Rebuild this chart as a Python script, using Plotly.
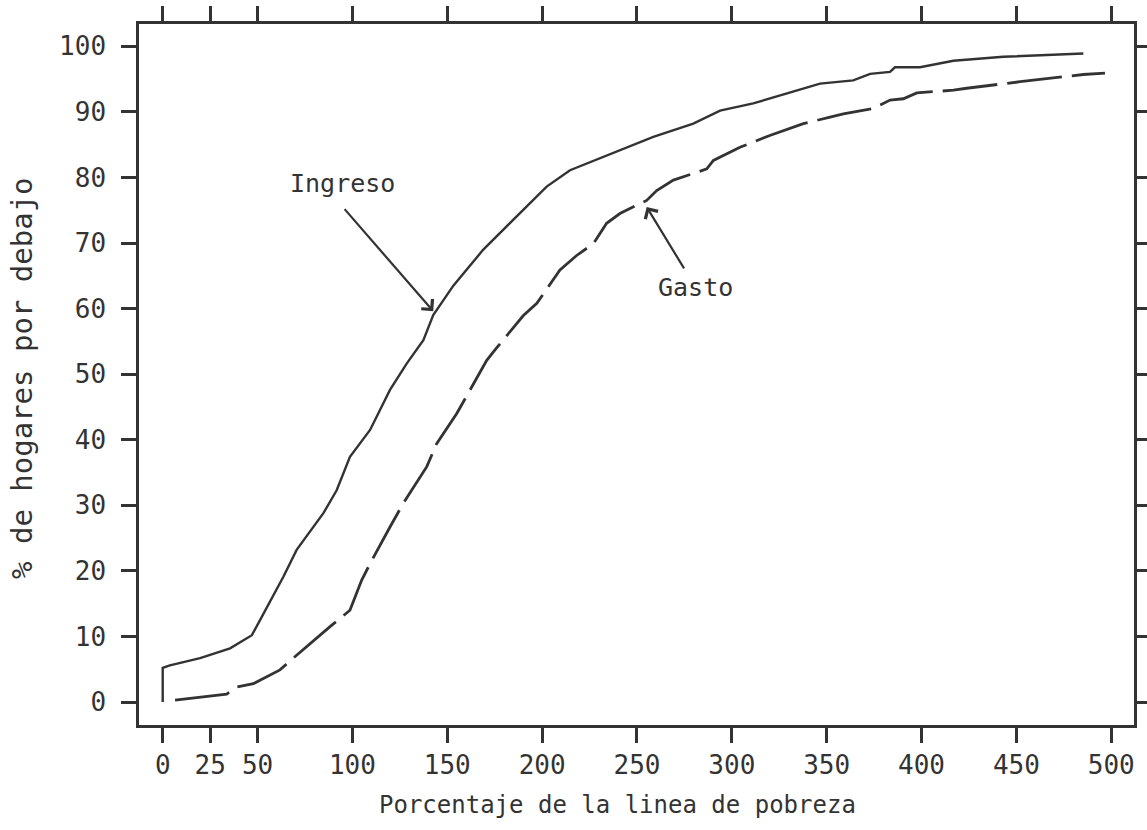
import plotly.graph_objects as go

# Ingreso (solid)
ingreso_x = [0, 0, 3.8, 19.7, 35.5, 47, 51.3, 63.6, 70.6, 84.7, 91.7, 98.7, 109.3, 119.8, 128.6,
             137.4, 142.6, 153.2, 169, 184.8, 202.4, 214.7, 241, 258.6, 279.7, 293.8, 311.3, 328.9,
             346.5, 364, 372.9, 383.4, 386, 399.2, 416.8, 443.1, 460.7, 485.3]
ingreso_y = [0, 5.2, 5.6, 6.7, 8.2, 10.2, 12.5, 19.1, 23.2, 28.8, 32.3, 37.4, 41.5, 47.6, 51.6,
             55.2, 59.0, 63.5, 69.0, 73.5, 78.6, 81.1, 84.1, 86.2, 88.2, 90.2, 91.3, 92.8,
             94.3, 94.8, 95.8, 96.1, 96.8, 96.8, 97.8, 98.4, 98.6, 98.9]

# Gasto (dashed)
gasto_x = [6.5, 33.7, 39, 47.8, 61.8, 68.8, 88.2, 98.7, 104.9, 109.3, 119.8, 126.8, 139.2, 144.4,
           155, 162, 170.8, 176, 190, 197.2, 209.4, 218.2, 227, 234, 241, 255.1, 260.4, 269.2,
           286.8, 290.3, 304.3, 320, 337.7, 351.8, 358.8, 374.6, 383.4, 390.4, 397.5, 416.8,
           423.8, 452, 485.3, 496.7]
gasto_y = [0.3, 1.2, 2.3, 2.8, 4.9, 6.7, 11.5, 14.0, 18.6, 21.1, 26.7, 30.3, 35.9, 39.4,
           44, 47.6, 52.1, 54.0, 58.9, 60.8, 65.9, 68.1, 69.9, 73, 74.5, 76.5, 78, 79.6,
           81.3, 82.6, 84.6, 86.4, 88.2, 89.2, 89.7, 90.5, 91.8, 92, 92.9, 93.3,
           93.6, 94.6, 95.7, 95.9]

x_ticks = [0, 25, 50, 100, 150, 200, 250, 300, 350, 400, 450, 500]
y_ticks = [0, 10, 20, 30, 40, 50, 60, 70, 80, 90, 100]

x_title = "Porcentaje de la linea de pobreza"
y_title = "% de hogares por debajo"

INK = "#333333"
FONT = "DejaVu Sans Mono"

fig = go.Figure()
fig.add_trace(go.Scatter(x=ingreso_x, y=ingreso_y, mode="lines", name="Ingreso",
                         line=dict(color=INK, width=2.4), showlegend=False))
fig.add_trace(go.Scatter(x=gasto_x, y=gasto_y, mode="lines", name="Gasto",
                         line=dict(color=INK, width=2.8, dash="55px,10px"), showlegend=False))

axis_common = dict(showline=True, linewidth=2.5, linecolor=INK, mirror="allticks",
                   ticks="outside", ticklen=15, tickwidth=2.5, tickcolor=INK,
                   showgrid=False, zeroline=False,
                   tickfont=dict(family=FONT, size=26, color=INK))

fig.update_xaxes(range=[-12.5, 512], tickvals=x_ticks, ticktext=[str(v) for v in x_ticks],
                 **axis_common)
fig.update_yaxes(range=[-3.5, 103.4], tickvals=y_ticks, ticktext=[str(v) for v in y_ticks],
                 ticklabelstandoff=10, **axis_common)

# Labels and arrows
fig.add_annotation(x=94.9, y=79.1, xref="x", yref="y", text="Ingreso", showarrow=False,
                   font=dict(family=FONT, size=25, color=INK))
fig.add_annotation(x=142.6, y=59.6, ax=95.2, ay=75.4, xref="x", yref="y", axref="x", ayref="y",
                   text="", showarrow=True, arrowhead=4, arrowsize=1.3, arrowwidth=2.2,
                   arrowcolor=INK)
fig.add_annotation(x=281, y=63.2, xref="x", yref="y", text="Gasto", showarrow=False,
                   font=dict(family=FONT, size=25, color=INK))
fig.add_annotation(x=255.1, y=75.5, ax=275.3, ay=65.9, xref="x", yref="y", axref="x", ayref="y",
                   text="", showarrow=True, arrowhead=4, arrowsize=1.3, arrowwidth=2.2,
                   arrowcolor=INK)

# Axis titles
fig.add_annotation(x=0.481, y=-0.114, xref="paper", yref="paper", text=x_title,
                   showarrow=False, xanchor="center", yanchor="middle",
                   font=dict(family=FONT, size=24, color=INK))
fig.add_annotation(x=-0.1176, y=0.495, xref="paper", yref="paper", text=y_title,
                   showarrow=False, textangle=-90, xanchor="center", yanchor="middle",
                   font=dict(family=FONT, size=29, color=INK))

fig.update_layout(width=1147, height=830,
                  margin=dict(l=139, r=13, t=24, b=105, autoexpand=False),
                  plot_bgcolor="white", paper_bgcolor="white")

fig.write_html("out.html")
